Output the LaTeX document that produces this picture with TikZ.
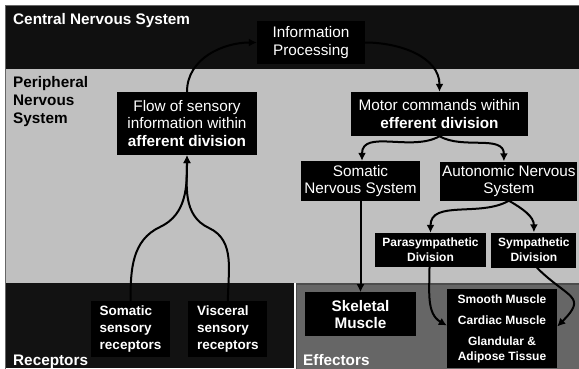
\documentclass[tikz,border=0pt]{standalone}
\usepackage{fontspec}
\setmainfont{Liberation Sans}
\usepackage{tikz}
\usetikzlibrary{arrows.meta,%
                positioning}
\definecolor{CnsBlack}{HTML}{101010}
\definecolor{PnsGray}{HTML}{C0C0C0}
\definecolor{RecBlack}{HTML}{121212}
\definecolor{EffGray}{HTML}{666666}

\begin{document}
\begin{tikzpicture}[x = 1bp, y = -1bp]
  \tikzset{ZoneLabelStyle/.style = {inner sep      = 0pt,
                                    align          = left,
                                    font           = \fontsize{15.3bp}{18bp}\selectfont\bfseries}}
  \tikzset{BoxStyle/.style      = {fill           = black,
                                   text           = white,
                                   align          = center,
                                   inner sep      = 0pt,
                                   font           = \fontsize{15.3bp}{17.5bp}\selectfont}}
  \tikzset{SmallBoxStyle/.style = {BoxStyle,
                                   font           = \fontsize{12bp}{15bp}\selectfont\bfseries}}
  \tikzset{ReceptorStyle/.style = {BoxStyle,
                                   align          = left,
                                   font           = \fontsize{13.5bp}{17bp}\selectfont\bfseries}}
  \tikzset{EdgeStyle/.style     = {line width     = 2bp,
                                   -{Latex[length = 8bp, width = 8bp]}}}
  \useasboundingbox (0,0) rectangle (579,368);
  % zones
  \fill[white] (0,0) rectangle (579,368);
  \fill[CnsBlack] (5,5) rectangle (579,69);
  \fill[PnsGray] (5,69) rectangle (579,283);
  \fill[RecBlack] (5,283) rectangle (293.5,368);
  \filldraw[fill = EffGray, draw = black!70, line width = 1.2bp] (296.5,284) rectangle (581,370);
  \draw[black!60, line width = 0.8bp] (5.5,5.5) rectangle (581,370);
  \node[ZoneLabelStyle, text = white, anchor = base west] (CnsLabel) at (13,24.5) {Central Nervous System};
  \node[ZoneLabelStyle, anchor = north west] (PnsLabel) at (13,76.5) {Peripheral\\Nervous\\System};
  \node[ZoneLabelStyle, text = white, anchor = base west] (RecLabel) at (13,365) {Receptors};
  \node[ZoneLabelStyle, text = white, anchor = base west] (EffLabel) at (303,365) {Effectors};
  % boxes
  \node[BoxStyle, minimum width = 108bp, minimum height = 43bp] (Info) at (311,42.5) {Information\\Processing};
  \node[BoxStyle, minimum width = 140bp, minimum height = 63bp] (Flow) at (187,123.5)
       {Flow of sensory\\information within\\\textbf{afferent division}};
  \node[BoxStyle, minimum width = 177bp, minimum height = 44bp] (Motor) at (439.5,114)
       {Motor commands within\\\textbf{efferent division}};
  \node[BoxStyle, minimum width = 119bp, minimum height = 40bp] (SNS) at (360.5,181) {Somatic\\Nervous System};
  \node[BoxStyle, minimum width = 137bp, minimum height = 39bp, right = 20bp of SNS] (ANS) {Autonomic Nervous\\System};
  \node[SmallBoxStyle, minimum width = 111bp, minimum height = 34bp] (Para) at (430.5,250) {Parasympathetic\\Division};
  \node[SmallBoxStyle, minimum width = 85bp, minimum height = 35bp, right = 5bp of Para] (Symp) {Sympathetic\\Division};
  \node[BoxStyle, font = \fontsize{15.3bp}{17.5bp}\selectfont\bfseries,
        minimum width = 111bp, minimum height = 44bp, below = 91bp of SNS] (Skel) {Skeletal\\Muscle};
  \node[SmallBoxStyle, minimum width = 110bp, minimum height = 79bp] (Organs) at (502,328.5)
       {Smooth Muscle\\[6bp]Cardiac Muscle\\[6bp]Glandular \&\\Adipose Tissue};
  \node[ReceptorStyle, minimum width = 79bp, minimum height = 56bp] (SomRec) at (130.5,329) {Somatic\\sensory\\receptors};
  \node[ReceptorStyle, minimum width = 79bp, minimum height = 56bp, right = 18bp of SomRec] (VisRec) {Visceral\\sensory\\receptors};
  % connectors
  \coordinate (LeftBend) at (160,227);
  \coordinate (RightBend) at (209,228);
  \draw[EdgeStyle] (SomRec.north) to[out = 90, in = 205] (LeftBend) to[out = 25, in = -90] (Flow.south);
  \draw[EdgeStyle] (VisRec.north) to[out = 90, in = -25] (RightBend) to[out = 155, in = -90] (Flow.south);
  \draw[EdgeStyle] (Flow.north) to[out = 90, in = 180] (Info.west);
  \draw[EdgeStyle] (Info.east) to[out = 0, in = 90] (Motor.north);
  \draw[EdgeStyle] (Motor.south) to[out = -150, in = 90] ([xshift = 1.5bp]SNS.north);
  \draw[EdgeStyle] (Motor.south) to[out = -30, in = 90] ([xshift = -5bp]ANS.north);
  \draw[EdgeStyle] (ANS.south) to[out = -150, in = 90] (Para.north);
  \draw[EdgeStyle] (ANS.south) to[out = -30, in = 90] (Symp.north);
  \draw[EdgeStyle] (SNS.south) -- (Skel.north);
  \draw[EdgeStyle] ([xshift = -1bp]Para.south) to[out = -90, in = 150] ([yshift = 3bp]Organs.west);
  \draw[EdgeStyle] ([xshift = 3bp]Symp.south) to[out = -45, in = 45, looseness = 1.8] ([yshift = 2bp]Organs.east);
\end{tikzpicture}
\end{document}
